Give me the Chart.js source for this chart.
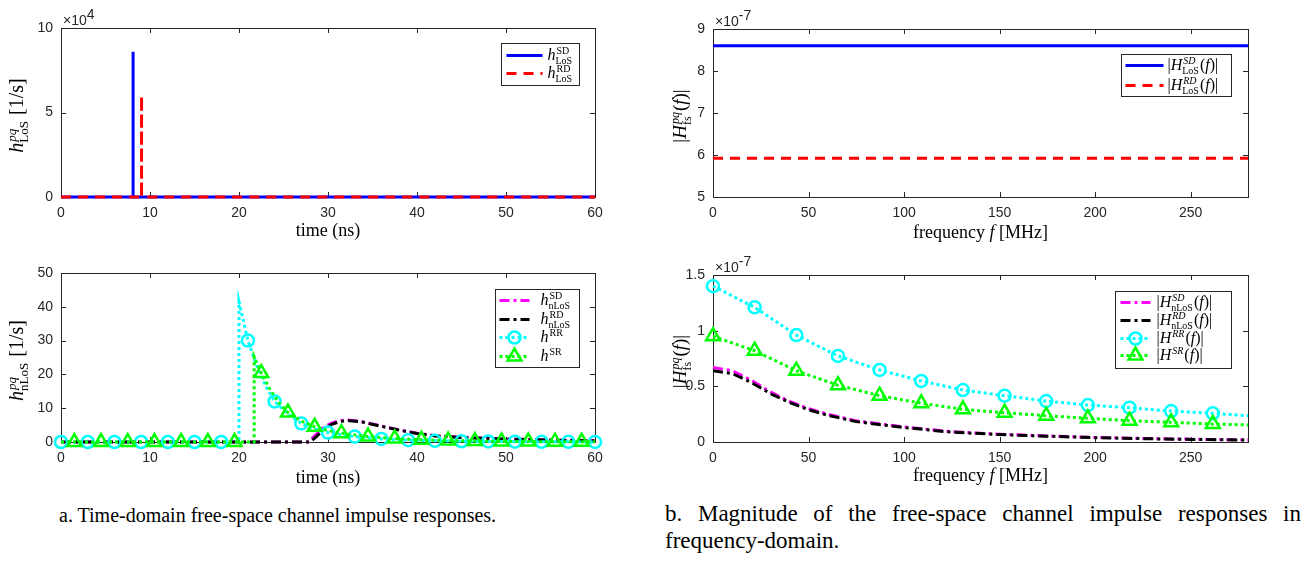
<!DOCTYPE html>
<html>
<head>
<meta charset="utf-8">
<script src="https://cdn.jsdelivr.net/npm/chart.js@4"></script>
<style>
  body { margin: 0; background: #fff; width: 1314px; height: 564px; position: relative; overflow: hidden; }
  canvas { position: absolute; }
  .cap { position: absolute; font-family: "Liberation Serif", "Times New Roman", serif; color: #000; line-height: 27px; }
  #capA { left: 59px; top: 502px; font-size: 20px; white-space: nowrap; }
  #capB { left: 665px; top: 500px; font-size: 23px; width: 636px; text-align: justify; }
  .nw { white-space: nowrap; }
</style>
</head>
<body>
<canvas id="tl" width="640" height="245" style="left:0;top:0"></canvas>
<canvas id="bl" width="640" height="245" style="left:0;top:245px"></canvas>
<canvas id="tr" width="674" height="245" style="left:640px;top:0"></canvas>
<canvas id="br" width="674" height="245" style="left:640px;top:245px"></canvas>
<div class="cap" id="capA">a. Time-domain free-space channel impulse responses.</div>
<div class="cap" id="capB">b. Magnitude of the free-space channel impulse responses in <span class="nw">frequency-domain.</span></div>
<script>
// ---- data ----
// (a) top: LoS impulses
const losTimeSD = [0, 8.1, 8.1, 8.1, 60];
const losValSD  = [0, 0, 86000, 0, 0];
const losTimeRD = [0, 9.05, 9.05, 9.05, 60];
const losValRD  = [0, 0, 60000, 0, 0];

// (a) bottom: nLoS, RR, SR
const nlosTimeSD = [0, 27.8, 28.5, 29.3, 30.2, 31.2, 32.2, 33.5, 35, 38, 40, 42, 45, 50, 55, 60];
const nlosValSD  = [0, 0, 1.8, 3.9, 5.4, 6.3, 6.5, 6.2, 5.3, 3.6, 2.6, 1.9, 1.4, 0.9, 0.6, 0.4];
const nlosTimeRD = [0, 28.0, 28.7, 29.5, 30.4, 31.4, 32.4, 33.7, 35.2, 38, 40, 42, 45, 50, 55, 60];
const nlosValRD  = [0, 0, 1.6, 3.7, 5.2, 6.1, 6.3, 6.0, 5.1, 3.5, 2.5, 1.8, 1.3, 0.85, 0.55, 0.35];
const rrTime = [0, 3, 6, 9, 12, 15, 18, 20, 20, 21, 22, 23, 24, 25.5, 27, 28.5, 30, 31.5, 33, 36, 39, 42, 45, 48, 51, 54, 57, 60];
const rrVal  = [0, 0, 0, 0, 0, 0, 0, 0, 41.5, 30, 22.5, 16.5, 12, 8.2, 5.5, 3.9, 2.8, 2.1, 1.6, 0.9, 0.55, 0.35, 0.22, 0.15, 0.1, 0.07, 0.05, 0.03];
const rrMarks = [0, 3, 6, 9, 12, 15, 18, 21, 24, 27, 30, 33, 36, 39, 42, 45, 48, 51, 54, 57, 60];
const srTime = [0, 1.5, 4.5, 7.5, 10.5, 13.5, 16.5, 19.5, 21.7, 21.7, 22.5, 23.5, 24.5, 25.5, 27, 28.5, 30, 31.5, 34.5, 37.5, 40.5, 43.5, 46.5, 49.5, 52.5, 55.5, 58.5, 60];
const srVal  = [0, 0, 0, 0, 0, 0, 0, 0, 0, 25.2, 20.4, 15.5, 11.5, 8.7, 6.2, 4.5, 3.4, 2.6, 1.6, 1.0, 0.65, 0.42, 0.28, 0.18, 0.12, 0.08, 0.05, 0.04];
const srMarks = [1.5, 4.5, 7.5, 10.5, 13.5, 16.5, 19.5, 22.5, 25.5, 28.5, 31.5, 34.5, 37.5, 40.5, 43.5, 46.5, 49.5, 52.5, 55.5, 58.5];

// (b) top: LoS magnitudes
const freqLos = [0, 280];
const magLosSD = [8.6e-7, 8.6e-7];
const magLosRD = [5.92e-7, 5.92e-7];

// (b) bottom: nLoS, RR, SR magnitudes
const freqNlos = [0, 10, 20, 30, 40, 50, 60, 75, 100, 125, 150, 175, 200, 225, 250, 280];
const magNlosSD = [0.67e-7, 0.64e-7, 0.555e-7, 0.45e-7, 0.365e-7, 0.30e-7, 0.25e-7, 0.19e-7, 0.135e-7, 0.092e-7, 0.07e-7, 0.054e-7, 0.041e-7, 0.032e-7, 0.025e-7, 0.019e-7];
const magNlosRD = [0.64e-7, 0.615e-7, 0.535e-7, 0.435e-7, 0.355e-7, 0.29e-7, 0.24e-7, 0.183e-7, 0.13e-7, 0.088e-7, 0.067e-7, 0.052e-7, 0.039e-7, 0.03e-7, 0.023e-7, 0.017e-7];
const freqMark = [0, 21.8, 43.6, 65.4, 87.2, 109, 130.8, 152.6, 174.4, 196.2, 218, 239.8, 261.6, 280];
const magRR = [1.40e-7, 1.21e-7, 0.96e-7, 0.773e-7, 0.647e-7, 0.548e-7, 0.467e-7, 0.416e-7, 0.368e-7, 0.332e-7, 0.308e-7, 0.278e-7, 0.258e-7, 0.236e-7];
const magSR = [0.95e-7, 0.82e-7, 0.64e-7, 0.51e-7, 0.416e-7, 0.348e-7, 0.294e-7, 0.263e-7, 0.236e-7, 0.213e-7, 0.191e-7, 0.177e-7, 0.162e-7, 0.153e-7];
const freqMarks = [0, 21.8, 43.6, 65.4, 87.2, 109, 130.8, 152.6, 174.4, 196.2, 218, 239.8, 261.6];

// tick labels
const timeTicks = [0, 10, 20, 30, 40, 50, 60];
const freqTicks = [0, 50, 100, 150, 200, 250];
const losImpTicks = [0, 50000, 100000];
const nlosImpTicks = [0, 10, 20, 30, 40, 50];
const losMagTicks = [5e-7, 6e-7, 7e-7, 8e-7, 9e-7];
const nlosMagTicks = [0, 0.5e-7, 1e-7, 1.5e-7];

// ---- helpers ----
const serif = '"Liberation Serif", "Times New Roman", serif';
const sans = '"Liberation Sans", Arial, Helvetica, sans-serif';
const axisGrey = '#262626';

function pts(xs, ys) { return xs.map((x, i) => ({ x: x, y: ys[i] })); }

function fnt(style, size) { return (style === 'i' ? 'italic ' : '') + size + 'px ' + serif; }

// parts: ['txt','i'|'r'] or {sup:[..], sub:[..]}
function runMath(ctx, parts, x, y, size, draw) {
  let cx = x;
  const small = Math.round(size * 0.64);
  for (const p of parts) {
    if (Array.isArray(p)) {
      ctx.font = fnt(p[1], size);
      if (draw) ctx.fillText(p[0], cx, y);
      cx += ctx.measureText(p[0]).width;
    } else {
      let w = 0;
      if (p.sup) {
        ctx.font = fnt(p.sup[1], small);
        if (draw) ctx.fillText(p.sup[0], cx + 1, y - size * 0.36);
        w = Math.max(w, ctx.measureText(p.sup[0]).width + 1);
      }
      if (p.sub) {
        ctx.font = fnt(p.sub[1], small);
        if (draw) ctx.fillText(p.sub[0], cx, y + size * 0.26);
        w = Math.max(w, ctx.measureText(p.sub[0]).width);
      }
      cx += w + 1;
    }
  }
  return cx - x;
}

function drawMarker(ctx, style, x, y, r) {
  ctx.beginPath();
  if (style === 'circle') {
    ctx.arc(x, y, r, 0, Math.PI * 2);
  } else if (style === 'triangle') {
    let a = 0;
    for (let k = 0; k < 3; k++) {
      const px = x + Math.sin(a) * r, py = y - Math.cos(a) * r;
      if (k === 0) ctx.moveTo(px, py); else ctx.lineTo(px, py);
      a += Math.PI * 2 / 3;
    }
    ctx.closePath();
  }
  ctx.stroke();
}

function linearAxis(ticks, min, max, fmt, fit) {
  return {
    type: 'linear', min: min, max: max,
    afterBuildTicks: s => { s.ticks = ticks.map(v => ({ value: v })); },
    afterFit: fit,
    grid: { display: false, drawTicks: false },
    border: { display: false },
    ticks: { font: { family: sans, size: 14 }, color: axisGrey, padding: 8, maxRotation: 0, autoSkip: false, callback: fmt }
  };
}

// frame, inward ticks, titles, exponent and legend
function decor(cfg) {
  return {
    id: 'decor',
    beforeDatasetsDraw(chart) {
      const ctx = chart.ctx, a = chart.chartArea;
      const xs = chart.scales.x, ys = chart.scales.y;
      ctx.save();
      ctx.strokeStyle = axisGrey;
      ctx.lineWidth = 1;
      ctx.strokeRect(Math.round(a.left) + 0.5, Math.round(a.top) + 0.5, Math.round(a.right - a.left), Math.round(a.bottom - a.top));
      ctx.beginPath();
      xs.ticks.forEach(t => {
        const p = Math.round(xs.getPixelForValue(t.value)) + 0.5;
        ctx.moveTo(p, a.bottom); ctx.lineTo(p, a.bottom - 5);
        ctx.moveTo(p, a.top); ctx.lineTo(p, a.top + 5);
      });
      ys.ticks.forEach(t => {
        const p = Math.round(ys.getPixelForValue(t.value)) + 0.5;
        ctx.moveTo(a.left, p); ctx.lineTo(a.left + 5, p);
        ctx.moveTo(a.right, p); ctx.lineTo(a.right - 5, p);
      });
      ctx.stroke();
      ctx.restore();
    },
    afterDraw(chart) {
      const ctx = chart.ctx, a = chart.chartArea;
      ctx.save();
      ctx.fillStyle = '#000';
      ctx.textBaseline = 'alphabetic';
      // x title
      const xw = runMath(ctx, cfg.xTitle, 0, 0, 18, false);
      runMath(ctx, cfg.xTitle, (a.left + a.right) / 2 - xw / 2, a.bottom + cfg.xTitleDy, 18, true);
      // y title (rotated)
      ctx.save();
      ctx.translate(cfg.yTitleX, (a.top + a.bottom) / 2 + 3);
      ctx.rotate(-Math.PI / 2);
      const yw = runMath(ctx, cfg.yTitle, 0, 0, cfg.yTitleSize, false);
      runMath(ctx, cfg.yTitle, -yw / 2, 5, cfg.yTitleSize, true);
      ctx.restore();
      // exponent
      if (cfg.expo) {
        ctx.fillStyle = axisGrey;
        ctx.font = '14px ' + sans;
        ctx.fillText('\u00d710', a.left + 2, a.top - 3);
        const ew = ctx.measureText('\u00d710').width;
        ctx.fillText(cfg.expo, a.left + 2 + ew, a.top - 9);
      }
      // legend
      const L = cfg.legend;
      const bx = Math.round(a.right - L.inset - L.w) + 0.5, by = Math.round(a.top + L.top) + 0.5;
      ctx.fillStyle = '#fff';
      ctx.fillRect(bx, by, L.w, L.h);
      ctx.strokeStyle = axisGrey;
      ctx.lineWidth = 1;
      ctx.strokeRect(bx, by, L.w, L.h);
      L.items.forEach((it, i) => {
        const ds = chart.data.datasets[i];
        const ry = by + L.rows[i];
        ctx.save();
        ctx.strokeStyle = ds.borderColor;
        ctx.lineWidth = ds.borderWidth;
        ctx.setLineDash(ds.borderDash || []);
        ctx.beginPath();
        ctx.moveTo(bx + L.s0, ry); ctx.lineTo(bx + L.s1, ry);
        ctx.stroke();
        ctx.setLineDash([]);
        if (ds.markStyle) {
          ctx.lineWidth = ds.pointBorderWidth;
          drawMarker(ctx, ds.markStyle, bx + (L.s0 + L.s1) / 2, ry, ds.markRadius);
        }
        ctx.restore();
        ctx.fillStyle = '#000';
        runMath(ctx, it, bx + L.tx, ry + 4, 16, true);
      });
      ctx.restore();
    }
  };
}

function lineSet(xs, ys, color, width, dash, order, marks, style, radius) {
  return {
    data: pts(xs, ys),
    borderColor: color, borderWidth: width, borderDash: dash, borderCapStyle: 'butt',
    tension: 0, clip: false, order: order, fill: false,
    pointStyle: style || 'circle',
    pointRadius: marks ? (c => marks.includes(c.raw.x) ? radius : 0) : 0,
    pointHoverRadius: marks ? (c => marks.includes(c.raw.x) ? radius : 0) : 0,
    pointBorderColor: color, pointBackgroundColor: 'rgba(0,0,0,0)', pointBorderWidth: 2.5,
    markStyle: marks ? style : null, markRadius: radius
  };
}

function makeChart(id, datasets, xScale, yScale, padRight, padTop, cfg) {
  return new Chart(document.getElementById(id), {
    type: 'line',
    data: { datasets: datasets },
    options: {
      responsive: false, animation: false, devicePixelRatio: 1,
      layout: { padding: { top: padTop, right: padRight, left: 0, bottom: 0 } },
      plugins: { legend: { display: false }, tooltip: { enabled: false } },
      scales: { x: xScale, y: yScale }
    },
    plugins: [decor(cfg)]
  });
}

const fitX = s => { s.height = 48; };
const fitYL = s => { s.width = 61; };
const fitYR = s => { s.width = 73; };
const fmtInt = v => String(v);

const dashDot = [10, 4, 3, 4];
const dotted = [3, 3];

// (a) top
makeChart('tl', [
  lineSet(losTimeSD, losValSD, '#0000ff', 3, [], 2),
  lineSet(losTimeRD, losValRD, '#ff0000', 3, [10, 7], 1)
], linearAxis(timeTicks, 0, 60, fmtInt, fitX),
   linearAxis(losImpTicks, 0, 100000, v => String(v / 10000), fitYL), 45, 28, {
  xTitle: [['time (ns)', 'r']], xTitleDy: 39,
  yTitle: [['h', 'i'], { sup: ['pq', 'i'], sub: ['LoS', 'r'] }, [' [1/s]', 'r']], yTitleX: 18, yTitleSize: 20,
  expo: '4',
  legend: { inset: 16, top: 15, w: 78, h: 42, s0: 5, s1: 41, tx: 46, rows: [12, 30],
    items: [[['h', 'i'], { sup: ['SD', 'r'], sub: ['LoS', 'r'] }], [['h', 'i'], { sup: ['RD', 'r'], sub: ['LoS', 'r'] }]] }
});

// (a) bottom
makeChart('bl', [
  lineSet(nlosTimeSD, nlosValSD, '#ff00ff', 3, dashDot, 4),
  lineSet(nlosTimeRD, nlosValRD, '#000000', 3, dashDot, 3),
  lineSet(rrTime, rrVal, '#00ffff', 3, dotted, 2, rrMarks, 'circle', 6),
  lineSet(srTime, srVal, '#00ff00', 3, dotted, 1, srMarks, 'triangle', 8)
], linearAxis(timeTicks, 0, 60, fmtInt, fitX),
   linearAxis(nlosImpTicks, 0, 50, fmtInt, fitYL), 45, 28, {
  xTitle: [['time (ns)', 'r']], xTitleDy: 41,
  yTitle: [['h', 'i'], { sup: ['pq', 'i'], sub: ['nLoS', 'r'] }, [' [1/s]', 'r']], yTitleX: 18, yTitleSize: 20,
  expo: '',
  legend: { inset: 16, top: 16, w: 84, h: 78, s0: 4, s1: 34, tx: 45, rows: [11, 30, 48, 67],
    items: [
      [['h', 'i'], { sup: ['SD', 'r'], sub: ['nLoS', 'r'] }],
      [['h', 'i'], { sup: ['RD', 'r'], sub: ['nLoS', 'r'] }],
      [['h', 'i'], { sup: ['RR', 'r'] }],
      [['h', 'i'], { sup: ['SR', 'r'] }]
    ] }
});

// (b) top
const fmtE7 = v => String(+(v / 1e-7).toFixed(1));
makeChart('tr', [
  lineSet(freqLos, magLosSD, '#0000ff', 3, [], 2),
  lineSet(freqLos, magLosRD, '#ff0000', 3, [10, 7], 1)
], linearAxis(freqTicks, 0, 280, fmtInt, fitX),
   linearAxis(losMagTicks, 5e-7, 9e-7, fmtE7, fitYR), 66, 29, {
  xTitle: [['frequency ', 'r'], ['f', 'i'], [' [MHz]', 'r']], xTitleDy: 41,
  yTitle: [['|', 'r'], ['H', 'i'], { sup: ['pq', 'i'], sub: ['fs', 'r'] }, ['(', 'r'], ['f', 'i'], [')|', 'r']], yTitleX: 41, yTitleSize: 19,
  expo: '-7',
  legend: { inset: 17, top: 25, w: 110, h: 42, s0: 4, s1: 42, tx: 46, rows: [11, 31],
    items: [
      [['|', 'r'], ['H', 'i'], { sup: ['SD', 'i'], sub: ['LoS', 'r'] }, ['(', 'r'], ['f', 'i'], [')|', 'r']],
      [['|', 'r'], ['H', 'i'], { sup: ['RD', 'i'], sub: ['LoS', 'r'] }, ['(', 'r'], ['f', 'i'], [')|', 'r']]
    ] }
});

// (b) bottom
makeChart('br', [
  lineSet(freqNlos, magNlosSD, '#ff00ff', 3, dashDot, 4),
  lineSet(freqNlos, magNlosRD, '#000000', 3, dashDot, 3),
  lineSet(freqMark, magRR, '#00ffff', 3, dotted, 2, freqMarks, 'circle', 6),
  lineSet(freqMark, magSR, '#00ff00', 3, dotted, 1, freqMarks, 'triangle', 8)
], linearAxis(freqTicks, 0, 280, fmtInt, fitX),
   linearAxis(nlosMagTicks, 0, 1.5e-7, fmtE7, fitYR), 66, 30, {
  xTitle: [['frequency ', 'r'], ['f', 'i'], [' [MHz]', 'r']], xTitleDy: 39,
  yTitle: [['|', 'r'], ['H', 'i'], { sup: ['pq', 'i'], sub: ['fs', 'r'] }, ['(', 'r'], ['f', 'i'], [')|', 'r']], yTitleX: 41, yTitleSize: 19,
  expo: '-7',
  legend: { inset: 17, top: 16, w: 116, h: 77, s0: 5, s1: 35, tx: 41, rows: [11, 29, 47, 64],
    items: [
      [['|', 'r'], ['H', 'i'], { sup: ['SD', 'i'], sub: ['nLoS', 'r'] }, ['(', 'r'], ['f', 'i'], [')|', 'r']],
      [['|', 'r'], ['H', 'i'], { sup: ['RD', 'i'], sub: ['nLoS', 'r'] }, ['(', 'r'], ['f', 'i'], [')|', 'r']],
      [['|', 'r'], ['H', 'i'], { sup: ['RR', 'i'] }, ['(', 'r'], ['f', 'i'], [')|', 'r']],
      [['|', 'r'], ['H', 'i'], { sup: ['SR', 'i'] }, ['(', 'r'], ['f', 'i'], [')|', 'r']]
    ] }
});
</script>
</body>
</html>
